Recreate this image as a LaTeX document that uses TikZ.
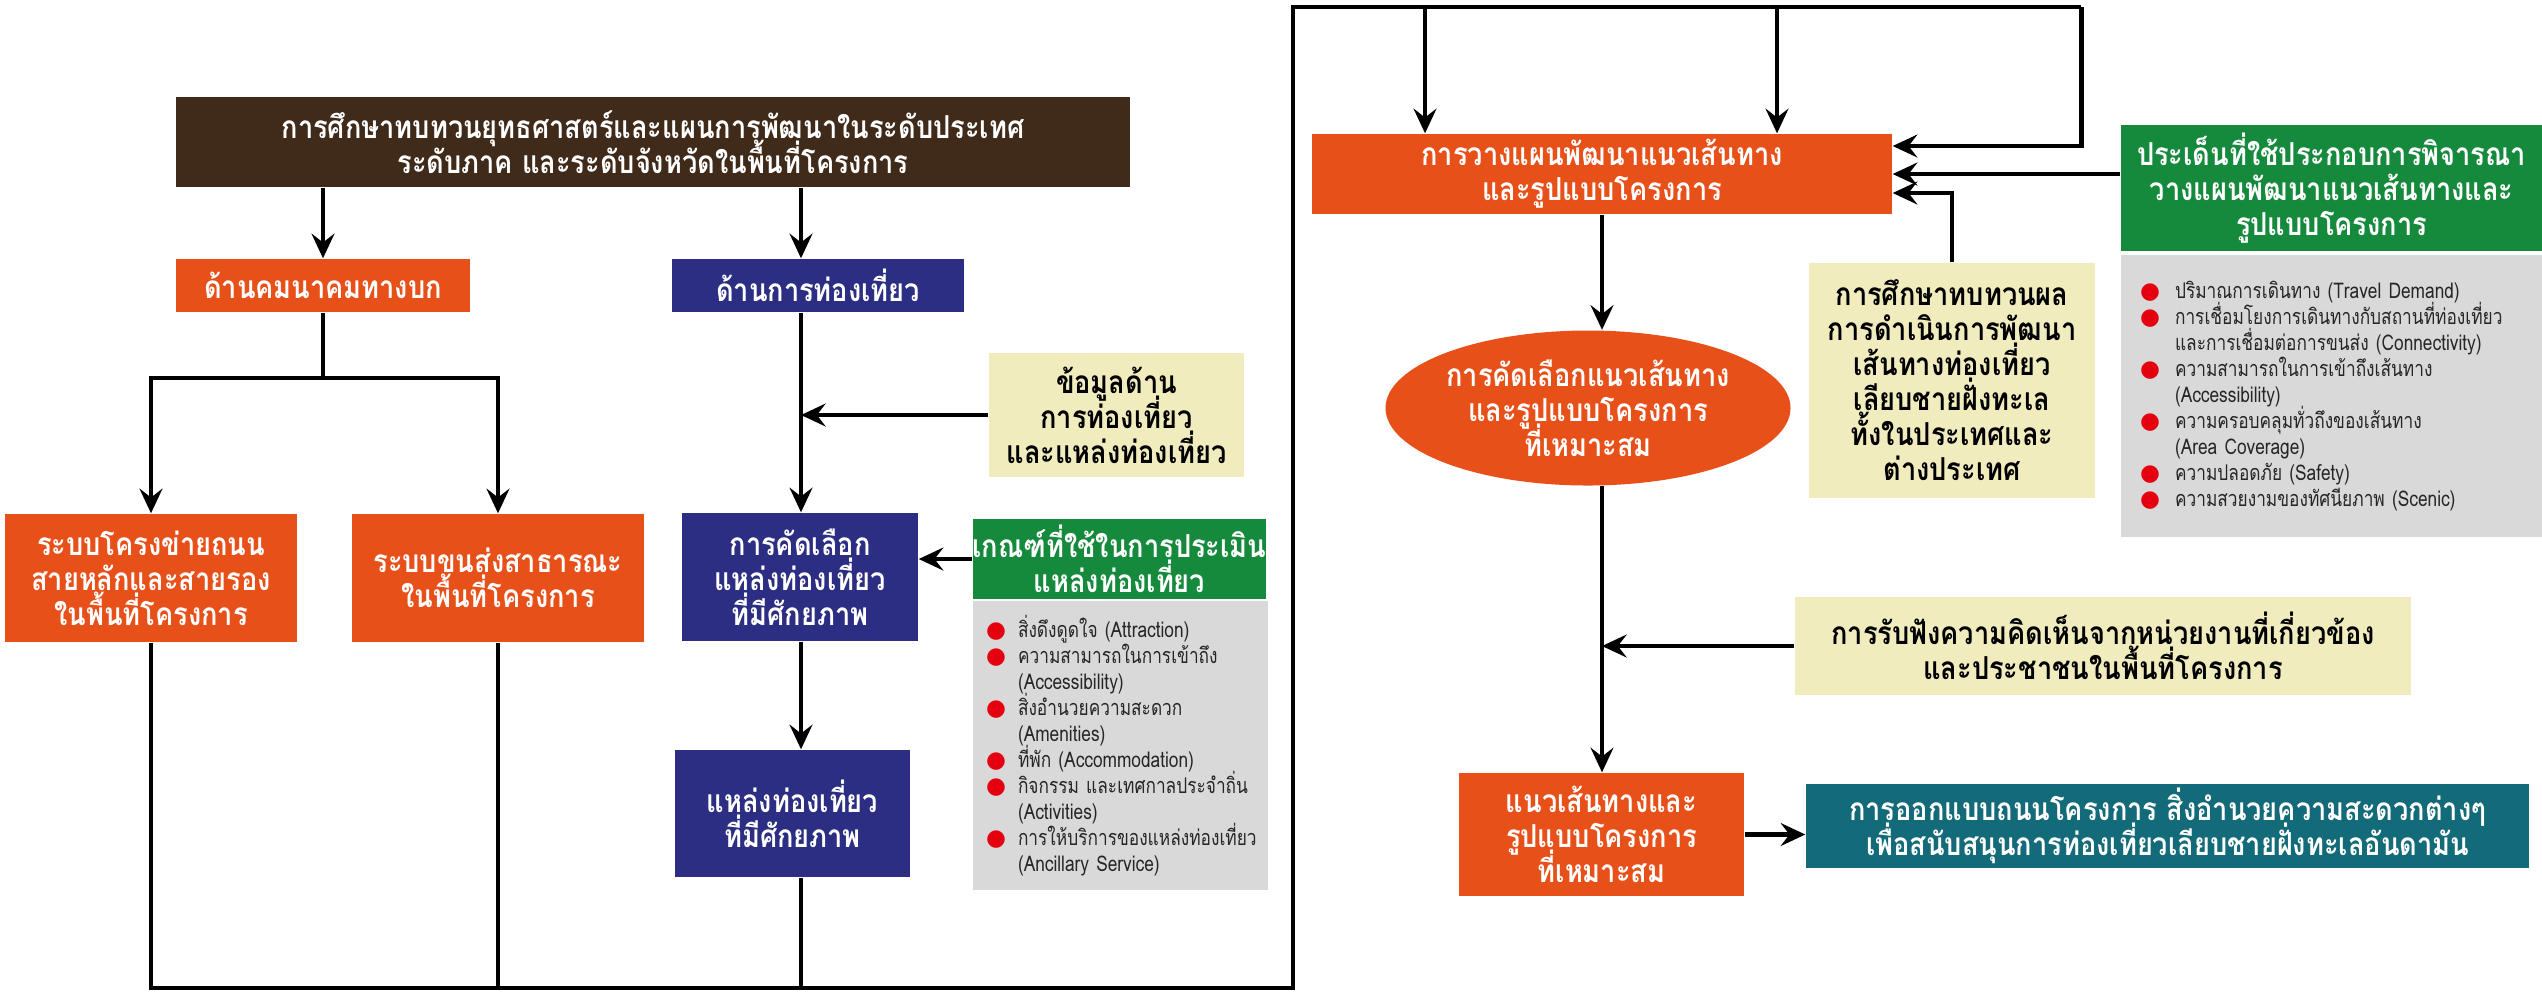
\documentclass[tikz,border=0pt]{standalone}
\usepackage{fontspec}
\newfontfamily\thaifont[Script=Thai, FakeStretch=0.86]{Loma}
\newfontfamily\thailist[Script=Thai, FakeStretch=0.8]{Loma}
\newfontfamily\dotfont{DejaVu Sans}
\usetikzlibrary{arrows.meta, shapes.geometric}

\definecolor{brownbox}{RGB}{64,42,25}
\definecolor{orangebox}{RGB}{232,80,26}
\definecolor{bluebox}{RGB}{44,46,131}
\definecolor{greenbox}{RGB}{22,138,60}
\definecolor{yellowbox}{RGB}{240,236,190}
\definecolor{graybox}{RGB}{217,217,217}
\definecolor{tealbox}{RGB}{19,106,120}
\definecolor{dotred}{RGB}{228,0,15}

\newcommand\boxfont{\thaifont\bfseries\fontsize{9}{9.96}\selectfont\lineskiplimit=-20pt\relax}
\newcommand\listfont{\thailist\fontsize{6.15}{7.4}\selectfont\lineskiplimit=-20pt\relax}
\newcommand\reddot[1]{\leavevmode\llap{{\dotfont\fontsize{6.5}{6.5}\selectfont\color{dotred}●}\hspace{#1}}}

\begin{document}
\begin{tikzpicture}[x=0.1mm, y=-0.1mm,
	box/.style={rectangle, inner sep=0pt, align=center, text=white, font=\boxfont},
	listbox/.style={rectangle, fill=graybox, inner xsep=0.5mm, inner ysep=0pt,
		align=left, text=black!85, font=\listfont},
	line/.style={line width=1.4pt},
	arr/.style={line, -{Stealth[length=7pt, width=6.5pt, inset=2.5pt]}}]

\useasboundingbox (0,0) rectangle (2542,991);

% left part: boxes
	\node[box, fill=brownbox, minimum width=95.4mm, minimum height=9mm] (study) at (653,142)
		{การศึกษาทบทวนยุทธศาสตร์และแผนการพัฒนาในระดับประเทศ\\ระดับภาค และระดับจังหวัดในพื้นที่โครงการ};
	\node[box, fill=orangebox, minimum width=29.4mm, minimum height=5.3mm] (land) at (323,285.5) {ด้านคมนาคมทางบก};
	\node[box, fill=bluebox, minimum width=29.2mm, minimum height=5.3mm] (tour) at (818,285.5) {ด้านการท่องเที่ยว};
	\node[box, fill=orangebox, minimum width=29.2mm, minimum height=12.8mm] (road) at (151,578)
		{ระบบโครงข่ายถนน\\สายหลักและสายรอง\\ในพื้นที่โครงการ};
	\node[box, fill=orangebox, minimum width=29.2mm, minimum height=12.8mm] (transit) at (498,578)
		{ระบบขนส่งสาธารณะ\\ในพื้นที่โครงการ};
	\node[box, fill=bluebox, minimum width=23.6mm, minimum height=12.8mm] (select) at (800,577)
		{การคัดเลือก\\แหล่งท่องเที่ยว\\ที่มีศักยภาพ};
	\node[box, fill=yellowbox, text=black, minimum width=25.5mm, minimum height=12.4mm] (tourdata) at (1116.5,415)
		{ข้อมูลด้าน\\การท่องเที่ยว\\และแหล่งท่องเที่ยว};
	\node[box, fill=greenbox, minimum width=29.3mm, minimum height=8mm] (criteria) at (1119.5,559)
		{เกณฑ์ที่ใช้ในการประเมิน\\แหล่งท่องเที่ยว};
	\node[listbox, text width=28.5mm, minimum height=28.9mm] (critlist) at (1120.5,745.5)
		{\leftskip=4mm
		\reddot{1.2mm}สิ่งดึงดูดใจ (Attraction)\\
		\reddot{1.2mm}ความสามารถในการเข้าถึง\\
		(Accessibility)\\
		\reddot{1.2mm}สิ่งอำนวยความสะดวก\\
		(Amenities)\\
		\reddot{1.2mm}ที่พัก (Accommodation)\\
		\reddot{1.2mm}กิจกรรม และเทศกาลประจำถิ่น\\
		(Activities)\\
		\reddot{1.2mm}การให้บริการของแหล่งท่องเที่ยว\\
		(Ancillary Service)\par};
	\node[box, fill=bluebox, minimum width=23.5mm, minimum height=12.7mm] (potential) at (792.5,813.5)
		{แหล่งท่องเที่ยว\\ที่มีศักยภาพ};

% right part: boxes
	\node[box, fill=orangebox, minimum width=58mm, minimum height=8mm] (plan) at (1602,174)
		{การวางแผนพัฒนาแนวเส้นทาง\\และรูปแบบโครงการ};
	\node[box, fill=greenbox, minimum width=42.1mm, minimum height=12.6mm] (issues) at (2331.5,188)
		{ประเด็นที่ใช้ประกอบการพิจารณา\\วางแผนพัฒนาแนวเส้นทางและ\\รูปแบบโครงการ};
	\node[listbox, text width=41.1mm, minimum height=28.2mm] (issuelist) at (2331.5,396)
		{\leftskip=4.9mm
		\reddot{1.5mm}ปริมาณการเดินทาง (Travel Demand)\\
		\reddot{1.5mm}การเชื่อมโยงการเดินทางกับสถานที่ท่องเที่ยว\\
		และการเชื่อมต่อการขนส่ง (Connectivity)\\
		\reddot{1.5mm}ความสามารถในการเข้าถึงเส้นทาง\\
		(Accessibility)\\
		\reddot{1.5mm}ความครอบคลุมทั่วถึงของเส้นทาง\\
		(Area Coverage)\\
		\reddot{1.5mm}ความปลอดภัย (Safety)\\
		\reddot{1.5mm}ความสวยงามของทัศนียภาพ (Scenic)\par};
	\node[box, fill=yellowbox, text=black, minimum width=28.6mm, minimum height=23.5mm] (review) at (1952,380.5)
		{การศึกษาทบทวนผล\\การดำเนินการพัฒนา\\เส้นทางท่องเที่ยว\\เลียบชายฝั่งทะเล\\ทั้งในประเทศและ\\ต่างประเทศ};
	\node[box, ellipse, fill=orangebox, minimum width=40.5mm, minimum height=15.5mm] (choose) at (1588,408)
		{การคัดเลือกแนวเส้นทาง\\และรูปแบบโครงการ\\ที่เหมาะสม};
	\node[box, fill=yellowbox, text=black, minimum width=61.6mm, minimum height=9.8mm] (hearing) at (2103,646)
		{การรับฟังความคิดเห็นจากหน่วยงานที่เกี่ยวข้อง\\และประชาชนในพื้นที่โครงการ};
	\node[box, fill=orangebox, minimum width=28.5mm, minimum height=12.3mm] (result) at (1601.5,834.5)
		{แนวเส้นทางและ\\รูปแบบโครงการ\\ที่เหมาะสม};
	\node[box, fill=tealbox, minimum width=72.3mm, minimum height=8.4mm] (design) at (2167.5,826)
		{การออกแบบถนนโครงการ สิ่งอำนวยความสะดวกต่างๆ\\เพื่อสนับสนุนการท่องเที่ยวเลียบชายฝั่งทะเลอันดามัน};

% helper points
	\coordinate (tcol) at (801,0);
	\coordinate (split) at (323,378);
	\coordinate (corner) at (1293,988);
	\coordinate (topleft) at (1293,7);
	\coordinate (topright) at (2081,7);
	\coordinate (drop1) at (1425,7);
	\coordinate (drop2) at (1777,7);

% left part: connectors
	\draw[arr] (study.south -| land) -- (land.north);
	\draw[arr] (study.south -| tcol) -- (tour.north -| tcol);
	\draw[arr] (land.south) -- (split) -| (road.north);
	\draw[arr] (split) -| (transit.north);
	\draw[arr] (tour.south -| tcol) -- (select.north -| tcol);
	\draw[arr] (tourdata.west) -- (tourdata.west -| tcol);
	\draw[arr] (criteria.west) -- (criteria.west -| select.east);
	\draw[arr] (select.south -| tcol) -- (potential.north -| tcol);

% feedback lines round to the planning box
	\draw[line] (road.south) |- (corner) -- (topleft) -- (topright);
	\draw[line] (transit.south) -- (transit.south |- corner);
	\draw[line] (potential.south -| tcol) -- (tcol |- corner);
	\draw[arr] (topright) |- ([yshift=2.8mm]plan.east);
	\draw[arr] (drop1) -- (drop1 |- plan.north);
	\draw[arr] (drop2) -- (drop2 |- plan.north);

% right part: connectors
	\draw[arr] (issues.west |- plan.east) -- (plan.east);
	\draw[arr] (review.north) |- ([yshift=-1.9mm]plan.east);
	\draw[arr] (plan.south) -- (choose.north -| plan.south);
	\draw[arr] (choose.south -| plan.south) -- (result.north -| plan.south);
	\draw[arr] (hearing.west) -- (hearing.west -| plan.south);
	\draw[arr] (result.east) -- (result.east -| design.west);

\end{tikzpicture}
\end{document}
